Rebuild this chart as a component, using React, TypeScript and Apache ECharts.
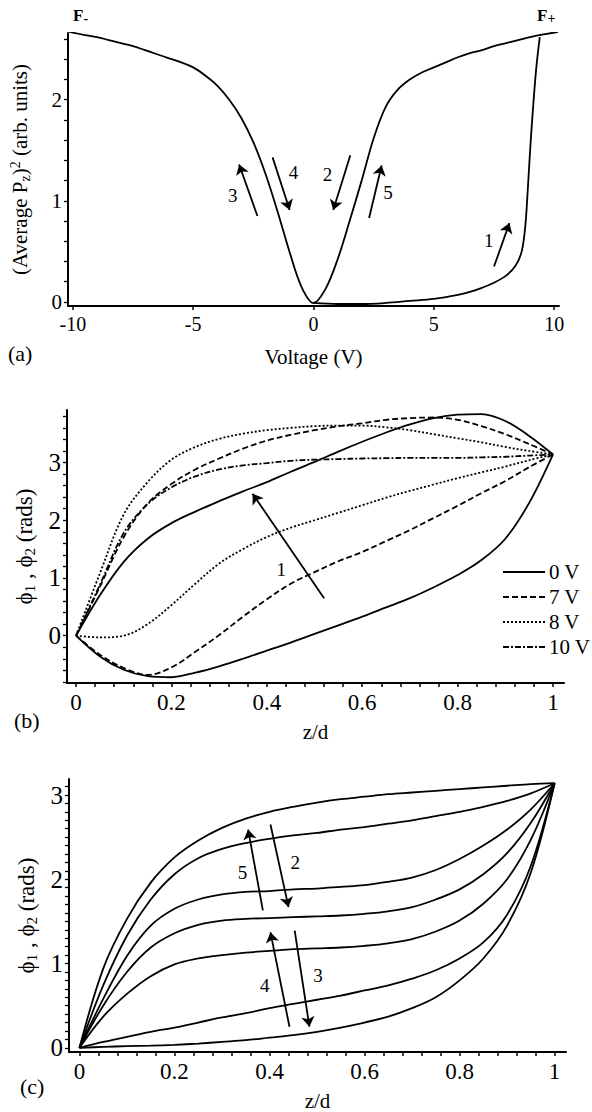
import React, { useEffect, useRef } from "react";
import * as echarts from "echarts";

const FONT = "Liberation Serif";

// ---------- Panel (a): (average Pz)^2 against applied voltage ----------
const sweepVoltage = [
  -10.15, -9.5, -9, -8.5, -8, -7.5, -7, -6.5, -6, -5.5, -5, -4.5, -4, -3.5, -3, -2.5, -2, -1.5, -1, -0.5,
  0, 0.5, 1, 1.5, 2, 2.5, 3, 3.5, 4, 4.5, 5, 5.5, 6, 6.5, 7, 7.5, 8, 8.5, 9, 9.5, 10.15,
];
const sweepPz2 = [
  2.67, 2.64, 2.62, 2.59, 2.56, 2.53, 2.49, 2.45, 2.41, 2.37, 2.32, 2.24, 2.14, 2.0, 1.82, 1.58, 1.27, 0.9, 0.5, 0.15,
  -0.01, 0.13, 0.42, 0.8, 1.2, 1.62, 1.93, 2.1, 2.2, 2.27, 2.32, 2.37, 2.42, 2.46, 2.49, 2.53, 2.56, 2.59, 2.62, 2.645, 2.67,
];
const initialVoltage = [0, 1, 2, 3, 4, 5, 6, 6.5, 7, 7.5, 8, 8.4, 8.65, 8.8, 8.9, 9.0, 9.1, 9.25, 9.4];
const initialPz2 = [-0.01, -0.02, -0.02, -0.01, 0.01, 0.03, 0.07, 0.1, 0.14, 0.19, 0.26, 0.36, 0.5, 0.75, 1.1, 1.5, 1.85, 2.3, 2.62];
const arrowsA = [
  [[7.5, 0.35], [8.14, 0.78]],
  [[1.53, 1.45], [0.82, 0.91]],
  [[-2.33, 0.85], [-3.09, 1.36]],
  [[-1.7, 1.43], [-0.99, 0.91]],
  [[2.31, 0.83], [2.83, 1.35]],
];
const arrowLabelsA: [string, number, number][] = [
  ["1", 7.28, 0.61], ["2", 0.58, 1.26], ["3", -3.35, 1.05], ["4", -0.83, 1.28], ["5", 3.1, 1.08],
];
const xLabelsA = [-10, -5, 0, 5, 10];
const yLabelsA = [0, 1, 2];

// ---------- Panel (b): director angles across the cell at several voltages ----------
const zB = [0, 0.05, 0.1, 0.15, 0.2, 0.25, 0.3, 0.35, 0.4, 0.45, 0.5, 0.55, 0.6, 0.65, 0.7, 0.75, 0.8, 0.85, 0.9, 0.95, 1];
const phi0Upper = [0, 0.7, 1.28, 1.68, 1.95, 2.15, 2.33, 2.5, 2.66, 2.84, 3.01, 3.19, 3.36, 3.52, 3.66, 3.77, 3.83, 3.84, 3.72, 3.46, 3.14];
const phi0Lower = [0, -0.36, -0.59, -0.7, -0.72, -0.64, -0.53, -0.4, -0.26, -0.12, 0.03, 0.18, 0.33, 0.49, 0.65, 0.84, 1.05, 1.31, 1.68, 2.3, 3.14];
const phi7Upper = [0, 0.85, 1.71, 2.29, 2.63, 2.88, 3.07, 3.24, 3.38, 3.48, 3.56, 3.63, 3.68, 3.74, 3.77, 3.78, 3.74, 3.63, 3.49, 3.32, 3.14];
const phi7Lower = [0, -0.33, -0.56, -0.68, -0.55, -0.28, 0.01, 0.33, 0.63, 0.9, 1.1, 1.29, 1.45, 1.64, 1.83, 2.04, 2.25, 2.47, 2.68, 2.92, 3.14];
const phi8Upper = [0, 1.08, 2.1, 2.66, 3.05, 3.27, 3.41, 3.5, 3.56, 3.6, 3.63, 3.64, 3.64, 3.61, 3.56, 3.49, 3.42, 3.35, 3.27, 3.2, 3.14];
const phi8Lower = [0, -0.03, 0.0, 0.2, 0.53, 0.9, 1.25, 1.5, 1.71, 1.87, 2.0, 2.13, 2.26, 2.39, 2.51, 2.62, 2.73, 2.83, 2.93, 3.04, 3.14];
const phi10 = [0, 0.88, 1.78, 2.28, 2.57, 2.76, 2.88, 2.95, 2.99, 3.03, 3.05, 3.06, 3.07, 3.075, 3.08, 3.08, 3.08, 3.09, 3.1, 3.12, 3.14];
const arrowsB = [[[0.52, 0.65], [0.37, 2.46]]];
const arrowLabelsB: [string, number, number][] = [["1", 0.43, 1.14]];
const legendB = ["0 V", "7 V", "8 V", "10 V"];

// ---------- Panel (c): relaxation profiles ----------
const zC = zB;
const profileC1 = [0, 0.94, 1.53, 1.96, 2.26, 2.46, 2.61, 2.72, 2.8, 2.86, 2.91, 2.95, 2.98, 3.01, 3.03, 3.05, 3.07, 3.09, 3.11, 3.13, 3.14];
const profileC2 = [0, 0.74, 1.33, 1.76, 2.06, 2.25, 2.36, 2.43, 2.48, 2.52, 2.55, 2.59, 2.62, 2.66, 2.7, 2.75, 2.8, 2.86, 2.93, 3.02, 3.14];
const profileC3 = [0, 0.58, 1.09, 1.45, 1.65, 1.76, 1.82, 1.85, 1.86, 1.88, 1.89, 1.91, 1.93, 1.97, 2.02, 2.11, 2.24, 2.4, 2.59, 2.83, 3.14];
const profileC4 = [0, 0.5, 0.9, 1.19, 1.36, 1.46, 1.51, 1.53, 1.54, 1.55, 1.56, 1.57, 1.59, 1.62, 1.67, 1.76, 1.88, 2.06, 2.31, 2.67, 3.14];
const profileC5 = [0, 0.37, 0.64, 0.85, 0.99, 1.06, 1.1, 1.13, 1.15, 1.17, 1.18, 1.19, 1.21, 1.24, 1.29, 1.38, 1.51, 1.71, 2.0, 2.47, 3.14];
const profileC6 = [0, 0.07, 0.13, 0.19, 0.24, 0.3, 0.36, 0.41, 0.47, 0.52, 0.57, 0.62, 0.68, 0.74, 0.82, 0.92, 1.06, 1.25, 1.58, 2.16, 3.14];
const profileC7 = [0, 0.01, 0.02, 0.025, 0.035, 0.05, 0.07, 0.09, 0.12, 0.15, 0.19, 0.24, 0.3, 0.37, 0.47, 0.6, 0.8, 1.06, 1.45, 2.08, 3.14];
const arrowsC = [
  [[0.386, 1.63], [0.355, 2.59]],
  [[0.402, 2.65], [0.44, 1.67]],
  [[0.442, 0.25], [0.402, 1.37]],
  [[0.453, 1.39], [0.484, 0.25]],
];
const arrowLabelsC: [string, number, number][] = [
  ["5", 0.343, 2.08], ["2", 0.454, 2.2], ["4", 0.39, 0.74], ["3", 0.502, 0.86],
];
const zLabels = [0, 0.2, 0.4, 0.6, 0.8, 1];
const phiLabels = [0, 1, 2, 3];

// evenly spaced tick positions for the minor tick marks
function steps(start: number, stop: number, step: number) {
  const out: number[] = [];
  const n = Math.round((stop - start) / step);
  for (let i = 0; i <= n; i++) out.push(+(start + i * step).toFixed(4));
  return out;
}

const zip = (xs: number[], ys: number[]) => xs.map((x, i) => [x, ys[i]]);

const DASH = { solid: "solid", dashed: [6, 3], dotted: [2, 2], dashDot: [6, 2, 2, 2] } as const;

function curve(data: number[][], idx: number, dash: any = "solid") {
  return {
    type: "line",
    data,
    xAxisIndex: idx,
    yAxisIndex: idx,
    symbol: "none",
    showSymbol: false,
    smooth: 0.35,
    silent: true,
    lineStyle: { color: "#000", width: 1.8, type: dash },
  };
}

function arrows(list: number[][][], idx: number) {
  return {
    type: "lines",
    coordinateSystem: "cartesian2d",
    xAxisIndex: idx,
    yAxisIndex: idx,
    silent: true,
    symbol: ["none", "arrow"],
    symbolSize: [0, 10],
    lineStyle: { color: "#000", width: 1.8, opacity: 1, curveness: 0 },
    data: list.map((c) => ({ coords: c })),
  };
}

const axisLine = { show: true, onZero: false, lineStyle: { color: "#000", width: 2 } };

function xAxis(idx: number, min: number, max: number, labels: number[], ticks: number[], name: string, nameGap: number, fs: number) {
  return {
    type: "value",
    gridIndex: idx,
    min,
    max,
    position: "bottom",
    axisLine,
    splitLine: { show: false },
    axisTick: { show: true, customValues: ticks, length: 4, lineStyle: { color: "#000", width: 1.5 } },
    axisLabel: {
      customValues: labels,
      color: "#000",
      fontFamily: FONT,
      fontSize: fs,
      margin: 8,
    },
    name,
    nameLocation: "middle",
    nameGap,
    nameTextStyle: { color: "#000", fontFamily: FONT, fontSize: 21 },
  };
}

function yAxis(idx: number, min: number, max: number, labels: number[], ticks: number[], name: string, nameGap: number, fs: number, rich: any) {
  return {
    type: "value",
    gridIndex: idx,
    min,
    max,
    position: "left",
    axisLine,
    splitLine: { show: false },
    axisTick: { show: true, customValues: ticks, length: 4, lineStyle: { color: "#000", width: 1.3 } },
    axisLabel: {
      customValues: labels,
      color: "#000",
      fontFamily: FONT,
      fontSize: fs,
      margin: 6,
    },
    name,
    nameLocation: "middle",
    nameRotate: 90,
    nameGap,
    nameTextStyle: { color: "#000", fontFamily: FONT, fontSize: 20, rich },
  };
}

const richA = {
  t: { fontFamily: FONT, fontSize: 21, lineHeight: 24, color: "#000" },
  s: { fontFamily: FONT, fontSize: 14, lineHeight: 13, verticalAlign: "bottom", color: "#000" },
  p: { fontFamily: FONT, fontSize: 14, lineHeight: 13, verticalAlign: "top", color: "#000" },
};
const richPhi = {
  t: { fontFamily: FONT, fontSize: 23, lineHeight: 26, color: "#000" },
  s: { fontFamily: FONT, fontSize: 15, lineHeight: 14, verticalAlign: "bottom", color: "#000" },
};

export default function App() {
  const ref = useRef<HTMLDivElement>(null);

  useEffect(() => {
    if (!ref.current) return;
    const chart = echarts.init(ref.current, undefined, { renderer: "svg" });

    const legendDashes = [DASH.solid, DASH.dashed, DASH.dotted, DASH.dashDot];
    const legendGraphics: any[] = [];
    legendB.forEach((label, i) => {
      const y = 572 + i * 25;
      legendGraphics.push({
        type: "line",
        shape: { x1: 503, y1: y, x2: 545, y2: y },
        style: { stroke: "#000", lineWidth: 1.8, lineDash: legendDashes[i] === "solid" ? null : legendDashes[i] },
      });
      legendGraphics.push({
        type: "text",
        x: 549,
        y,
        style: { text: label, fontFamily: FONT, fontSize: 21, fill: "#000", verticalAlign: "middle", align: "left" },
      });
    });

    const panelText = (text: string, x: number, y: number) => ({
      type: "text",
      x,
      y,
      style: { text, fontFamily: FONT, fontSize: 22, fill: "#000", verticalAlign: "middle", align: "left" },
    });

    const fieldLabel = (sign: string, x: number) => ({
      type: "text",
      x,
      y: 15,
      style: {
        text: `{f|F}{s|${sign}}`,
        verticalAlign: "middle",
        rich: {
          f: { fontFamily: FONT, fontSize: 17, fontWeight: "bold", lineHeight: 20, fill: "#000" },
          s: { fontFamily: FONT, fontSize: 14, fontWeight: "bold", lineHeight: 12, verticalAlign: "bottom", fill: "#000" },
        },
      },
    });

    const staticGraphics = [
      fieldLabel("-", 73),
      fieldLabel("+", 537),
      panelText("(a)", 8, 353),
      panelText("(b)", 14, 720),
      panelText("(c)", 20, 1086),
      ...legendGraphics,
    ];

    chart.setOption({
      animation: false,
      backgroundColor: "#fff",
      grid: [
        { left: 68, top: 33, width: 491, height: 273 },
        { left: 67, top: 410, width: 497, height: 273 },
        { left: 69, top: 779, width: 497, height: 274 },
      ],
      xAxis: [
        xAxis(0, -10.2, 10.2, xLabelsA, xLabelsA, "Voltage (V)", 40, 20),
        xAxis(1, -0.019, 1.023, zLabels, steps(0, 1, 0.04), "z/d", 38, 23),
        xAxis(2, -0.022, 1.024, zLabels, steps(0, 1, 0.04), "z/d", 38, 23),
      ],
      yAxis: [
        yAxis(0, -0.04, 2.66, yLabelsA, steps(0, 2.6, 0.2), "{t|(Average P}{s|z}{t|)}{p|2}{t| (arb. units)}", 36, 21, richA),
        yAxis(1, -0.82, 3.91, phiLabels, steps(-0.8, 3.8, 0.2), "{t|ϕ}{s|1}{t| , ϕ}{s|2}{t| (rads)}", 26, 25, richPhi),
        yAxis(2, -0.05, 3.19, phiLabels, steps(0, 3.1, 0.1), "{t|ϕ}{s|1}{t| , ϕ}{s|2}{t| (rads)}", 28, 25, richPhi),
      ],
      series: [
        curve(zip(sweepVoltage, sweepPz2), 0),
        curve(zip(initialVoltage, initialPz2), 0),
        arrows(arrowsA, 0),

        curve(zip(zB, phi0Upper), 1, DASH.solid),
        curve(zip(zB, phi0Lower), 1, DASH.solid),
        curve(zip(zB, phi7Upper), 1, DASH.dashed),
        curve(zip(zB, phi7Lower), 1, DASH.dashed),
        curve(zip(zB, phi8Upper), 1, DASH.dotted),
        curve(zip(zB, phi8Lower), 1, DASH.dotted),
        curve(zip(zB, phi10), 1, DASH.dashDot),
        arrows(arrowsB, 1),

        ...[profileC1, profileC2, profileC3, profileC4, profileC5, profileC6, profileC7].map((p) => curve(zip(zC, p), 2)),
        arrows(arrowsC, 2),
      ],
      graphic: staticGraphics,
    });

    // step numbers beside the arrows, placed through each panel's own axes
    const stepLabels: any[] = [];
    [arrowLabelsA, arrowLabelsB, arrowLabelsC].forEach((list, gridIndex) => {
      list.forEach(([text, x, y]) => {
        const [px, py] = chart.convertToPixel({ gridIndex }, [x, y]) as number[];
        stepLabels.push({
          type: "text",
          x: px,
          y: py,
          style: { text, fontFamily: FONT, fontSize: 19, fill: "#000", align: "center", verticalAlign: "middle" },
        });
      });
    });
    chart.setOption({ graphic: [...staticGraphics, ...stepLabels] });

    return () => chart.dispose();
  }, []);

  return (
    <div
      ref={ref}
      style={{ position: "absolute", left: 0, top: 0, width: 592, height: 1112, background: "#fff" }}
    />
  );
}
